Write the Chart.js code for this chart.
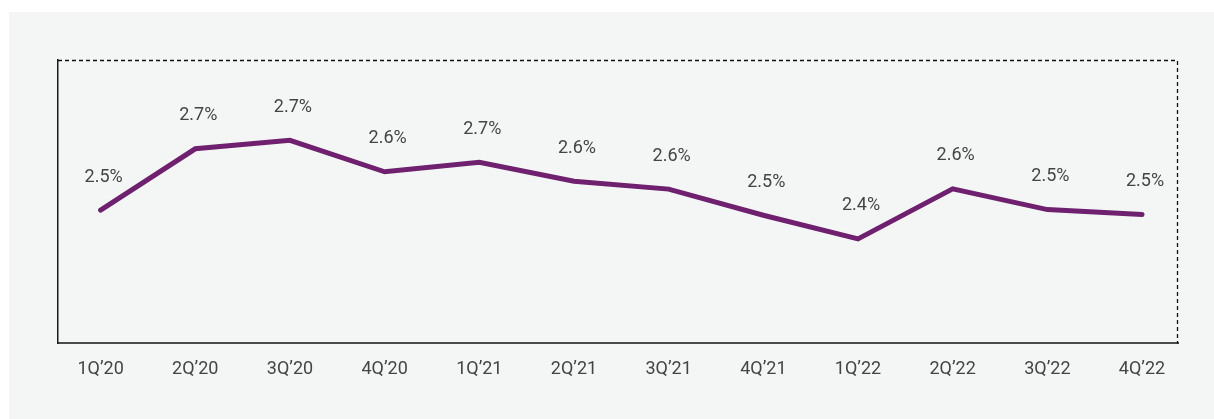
<!DOCTYPE html>
<html>
<head>
<meta charset="utf-8">
<script src="https://cdn.jsdelivr.net/npm/chart.js@4.4.1/dist/chart.umd.min.js"></script>
<style>
  html, body { margin: 0; padding: 0; background: #ffffff; }
  #wrap { width: 1214px; height: 419px; position: relative; }
</style>
</head>
<body>
<div id="wrap"><canvas id="c" width="1214" height="419"></canvas></div>
<script>
const categories = ["1Q\u201920","2Q\u201920","3Q\u201920","4Q\u201920","1Q\u201921","2Q\u201921","3Q\u201921","4Q\u201921","1Q\u201922","2Q\u201922","3Q\u201922","4Q\u201922"];
const values = [2.523, 2.718, 2.745, 2.645, 2.675, 2.615, 2.590, 2.507, 2.432, 2.591, 2.525, 2.509];
const valueLabels = ["2.5%","2.7%","2.7%","2.6%","2.7%","2.6%","2.6%","2.5%","2.4%","2.6%","2.5%","2.5%"];
const yMin = 2.1, yMax = 3.0;

const points = values.map((v, i) => ({ x: i, y: v }));

const panelPlugin = {
  id: 'panel',
  beforeDraw(chart) {
    const ctx = chart.ctx;
    ctx.save();
    ctx.fillStyle = '#f4f6f5';
    ctx.fillRect(9, 12, 1214 - 9, 419 - 12);
    ctx.restore();
  },
  afterDatasetsDraw(chart) {
    const ctx = chart.ctx;
    const a = chart.chartArea;
    ctx.save();
    // dashed top and right frame
    ctx.strokeStyle = '#111111';
    ctx.lineWidth = 1.3;
    ctx.setLineDash([4, 3]);
    const top = Math.round(a.top) + 0.5;
    const right = Math.round(a.right) - 0.5;
    ctx.beginPath();
    ctx.moveTo(a.left, top);
    ctx.lineTo(right, top);
    ctx.lineTo(right, a.bottom);
    ctx.stroke();
    ctx.setLineDash([]);
    // value labels
    const meta = chart.getDatasetMeta(0);
    ctx.fillStyle = '#444444';
    ctx.font = '400 18px Roboto, "Liberation Sans", sans-serif';
    ctx.textAlign = 'center';
    ctx.textBaseline = 'middle';
    meta.data.forEach((pt, i) => {
      ctx.fillText(valueLabels[i], pt.x + 3, pt.y - 33);
    });
    ctx.restore();
  }
};

new Chart(document.getElementById('c'), {
  type: 'line',
  data: {
    datasets: [{
      data: points,
      borderColor: '#6f2170',
      borderWidth: 5,
      borderCapStyle: 'round',
      borderJoinStyle: 'miter',
      pointRadius: 0,
      pointHoverRadius: 0,
      tension: 0,
      fill: false
    }]
  },
  options: {
    responsive: false,
    animation: false,
    events: [],
    layout: { padding: { left: 58, top: 60, right: 36, bottom: 24 } },
    plugins: { legend: { display: false }, tooltip: { enabled: false } },
    scales: {
      x: {
        type: 'linear',
        min: -0.45,
        max: 11.38,
        afterBuildTicks(scale) {
          scale.ticks = categories.map((c, i) => ({ value: i }));
        },
        grid: { display: false, drawTicks: false },
        border: { display: true, color: '#4a4a4a', width: 2 },
        ticks: {
          autoSkip: false,
          maxRotation: 0,
          padding: 15,
          color: '#444444',
          font: { family: 'Roboto, "Liberation Sans", sans-serif', size: 18, weight: '400' },
          callback: (v) => categories[v]
        }
      },
      y: {
        min: yMin,
        max: yMax,
        grid: { display: false, drawTicks: false },
        border: { display: true, color: '#1a1a1a', width: 1.5 },
        ticks: { display: false }
      }
    }
  },
  plugins: [panelPlugin]
});
</script>
</body>
</html>
